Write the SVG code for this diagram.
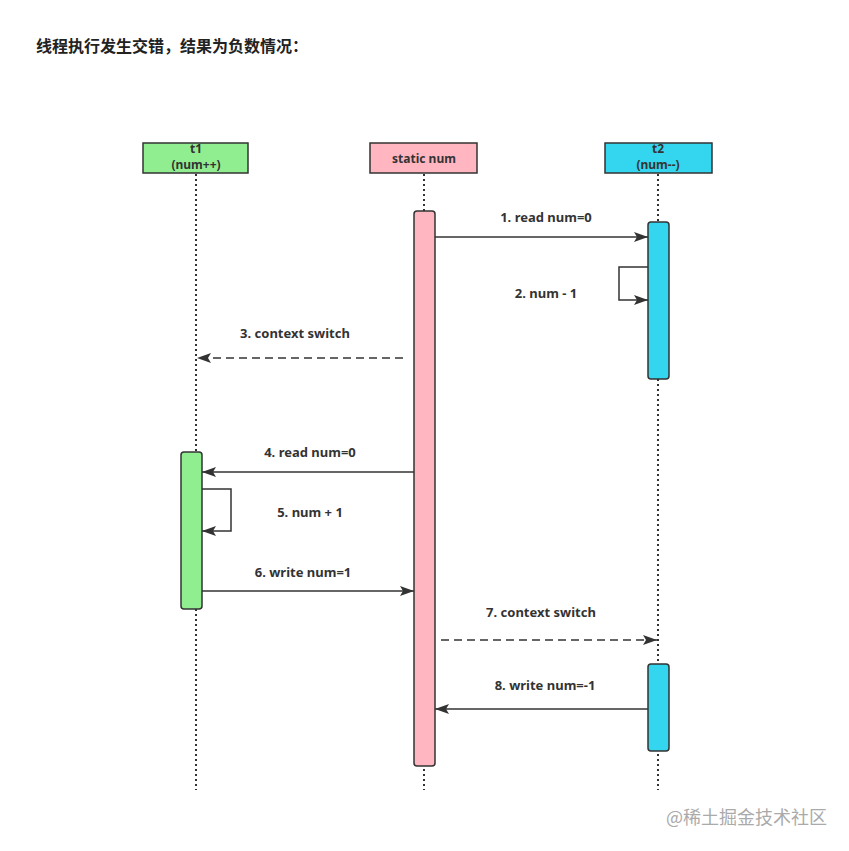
<svg xmlns="http://www.w3.org/2000/svg" width="849" height="851" viewBox="0 0 849 851">
<style>
.t{font-family:"Noto Sans","Noto Sans CJK SC",sans-serif;font-weight:bold;font-size:13px;fill:#333;text-anchor:middle}
.h{font-family:"Noto Sans","Noto Sans CJK SC",sans-serif;font-weight:bold;font-size:12px;fill:#333;text-anchor:middle}
.life{stroke:#333;stroke-width:2;stroke-dasharray:2 3;fill:none}
.box{stroke:#333;stroke-width:1.5}
.bar{stroke:#333;stroke-width:1.5}
.m{stroke:#333;stroke-width:1.5;fill:none}
.d{stroke-dasharray:8 5}
</style>
<defs>
<marker id="ahb" viewBox="0 0 14 10" refX="14" refY="5" markerWidth="14" markerHeight="10" markerUnits="userSpaceOnUse" orient="auto">
<path d="M0,0 L14,5 L0,10 L3,5 Z" fill="#333"/>
</marker>
</defs>
<rect width="849" height="851" fill="#fff"/>
<text x="36" y="52" style="font-family:'Noto Sans CJK SC',sans-serif;font-weight:bold;font-size:16px;fill:#222">线程执行发生交错，结果为负数情况：</text>

<g id="lifelines">
<line class="life" x1="196" y1="174" x2="196" y2="790"/>
<line class="life" x1="424" y1="174" x2="424" y2="790"/>
<line class="life" x1="658" y1="174" x2="658" y2="790"/>
</g>

<g id="t1">
<rect class="box" x="143" y="143" width="105" height="30" fill="#90EE90"/>
<text class="h" x="196" y="153">t1</text>
<text class="h" x="196" y="169">(num++)</text>
</g>
<g id="static-num">
<rect class="box" x="370" y="143" width="107" height="30" fill="#FFB6C1"/>
<text class="h" x="424" y="163">static num</text>
</g>
<g id="t2">
<rect class="box" x="605" y="143" width="107" height="30" fill="#33D6EE"/>
<text class="h" x="658" y="153">t2</text>
<text class="h" x="658" y="169">(num--)</text>
</g>

<g id="bar-static">
<rect class="bar" x="414" y="211" width="21" height="555" rx="3" fill="#FFB6C1"/>
</g>
<g id="bar-t2-a">
<rect class="bar" x="648" y="222" width="21" height="157" rx="3" fill="#33D6EE"/>
</g>
<g id="bar-t2-b">
<rect class="bar" x="648" y="664" width="21" height="87" rx="3" fill="#33D6EE"/>
</g>
<g id="bar-t1">
<rect class="bar" x="181" y="452" width="21" height="157" rx="3" fill="#90EE90"/>
</g>

<g id="connectors">
<line class="m" x1="435" y1="237" x2="648" y2="237" marker-end="url(#ahb)"/>
<polyline class="m" points="648,267 619,267 619,300 648,300" marker-end="url(#ahb)"/>
<line class="m d" x1="403" y1="358" x2="197" y2="358" marker-end="url(#ahb)"/>
<line class="m" x1="414" y1="472" x2="202" y2="472" marker-end="url(#ahb)"/>
<polyline class="m" points="202,489 231,489 231,531 202,531" marker-end="url(#ahb)"/>
<line class="m" x1="202" y1="591" x2="414" y2="591" marker-end="url(#ahb)"/>
<line class="m d" x1="441" y1="640" x2="657" y2="640" marker-end="url(#ahb)"/>
<line class="m" x1="648" y1="709" x2="435" y2="709" marker-end="url(#ahb)"/>
</g>

<g id="labels">
<text class="t" x="546" y="222">1. read num=0</text>
<text class="t" x="546" y="298">2. num - 1</text>
<text class="t" x="295" y="338">3. context switch</text>
<text class="t" x="310" y="457">4. read num=0</text>
<text class="t" x="310" y="517">5. num + 1</text>
<text class="t" x="303" y="577">6. write num=1</text>
<text class="t" x="541" y="617">7. context switch</text>
<text class="t" x="545" y="690">8. write num=-1</text>
</g>

<text x="666" y="824" style="font-family:'Noto Sans CJK SC',sans-serif;font-size:18px;fill:#aaa">@稀土掘金技术社区</text>
</svg>
